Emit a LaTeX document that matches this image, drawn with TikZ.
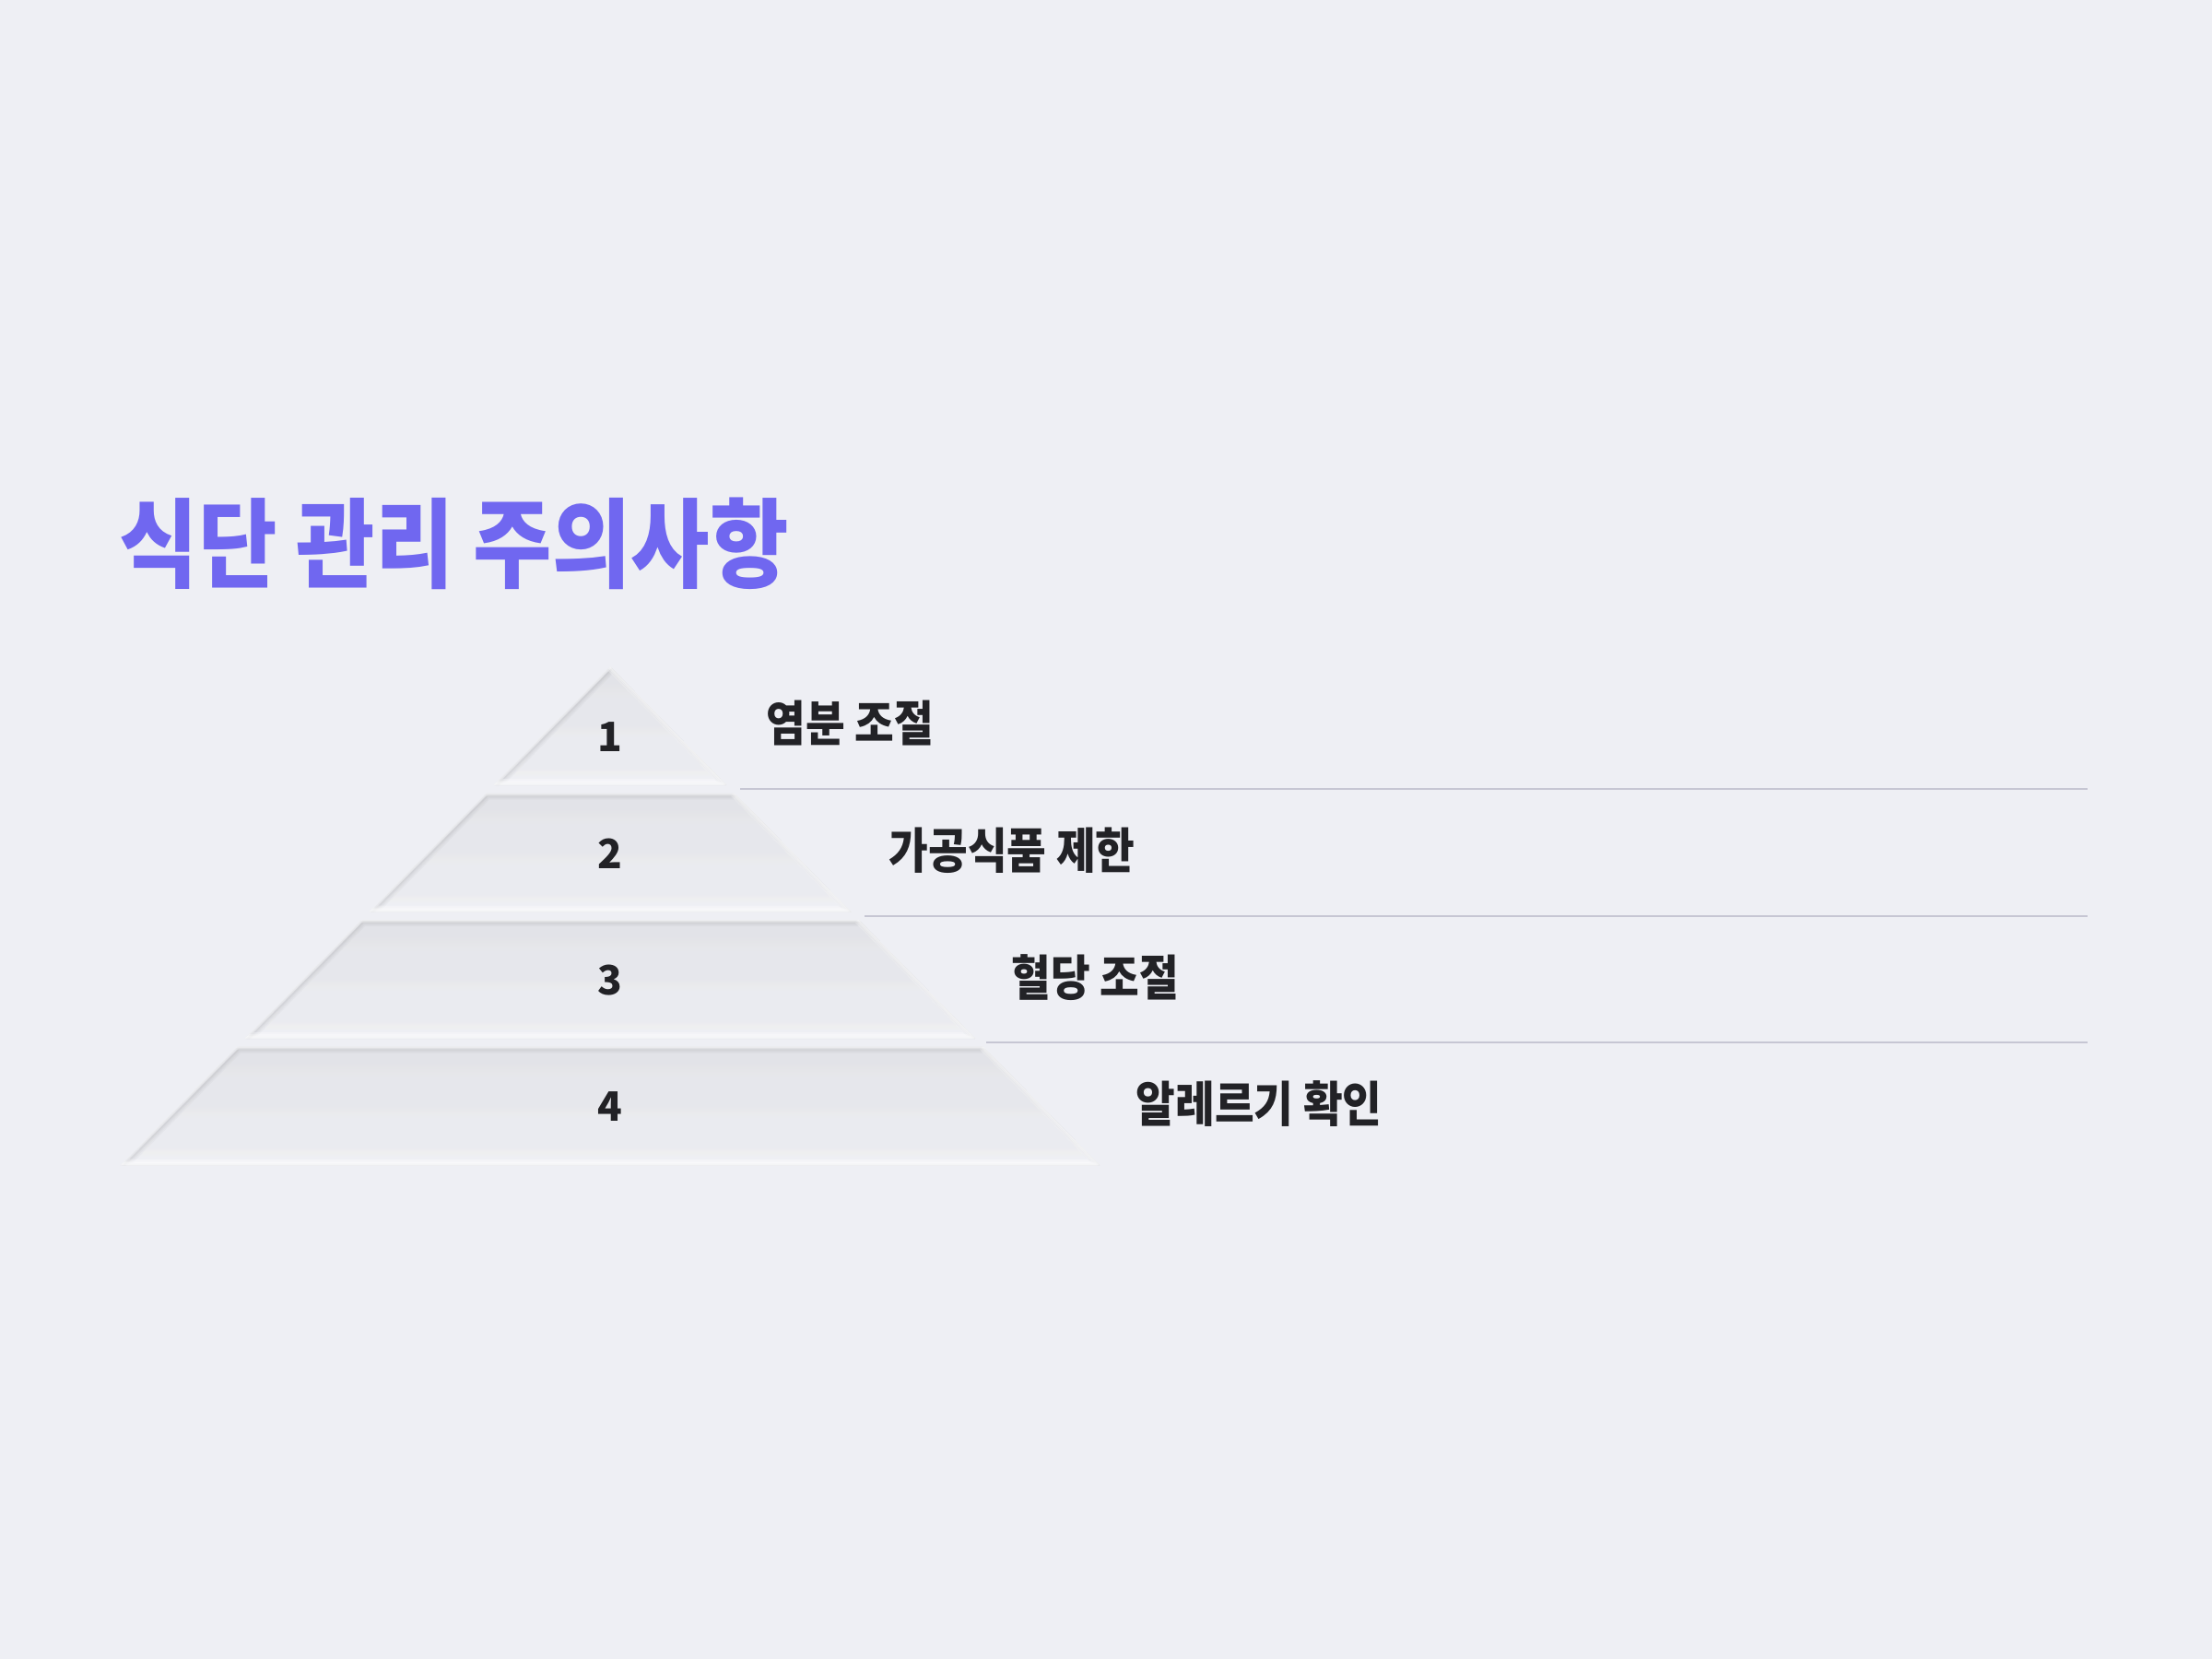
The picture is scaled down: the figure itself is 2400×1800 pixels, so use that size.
\documentclass[tikz,border=0pt]{standalone}
\usepackage{fontspec}
\setmainfont{Noto Sans CJK KR}
\newfontfamily\krfont{Noto Sans CJK KR}[FakeStretch=0.88]
\definecolor{bgpaper}{HTML}{EEEFF4}
\definecolor{titlepurple}{HTML}{7067F0}
\definecolor{ink}{HTML}{222226}
\definecolor{rulegray}{HTML}{C6C6D3}
\definecolor{shade}{HTML}{B4B6C6}

\begin{document}
\begin{tikzpicture}[x=0.01cm, y=-0.01cm,
	heading/.style={font=\krfont\bfseries\fontsize{30}{36}\selectfont, text=titlepurple, anchor=west, inner sep=0pt},
	num/.style={font=\bfseries\fontsize{12.5}{15}\selectfont, text=ink, inner sep=0pt},
	itemlabel/.style={font=\krfont\bfseries\fontsize{15}{18}\selectfont, text=ink, anchor=west, inner sep=0pt},
	sepline/.style={draw=rulegray, line width=0.7pt}]
	\fill[bgpaper] (0,0) rectangle (2400,1800);
	\useasboundingbox (0,0) rectangle (2400,1800);

	% pyramid tiers, inset look
	\foreach \i in {1,...,4}{
		\pgfmathsetmacro\ytop{723+(\i-1)*137.5}
		\pgfmathsetmacro\ybot{\ytop+129}
		\pgfmathsetmacro\wtop{(\ytop-723)*0.9815}
		\pgfmathsetmacro\wbot{(\ybot-723)*0.9815}
		\def\tierpath{(662-\wtop,\ytop) -- (662+\wtop,\ytop) -- (662+\wbot,\ybot) -- (662-\wbot,\ybot) -- cycle}
		\begin{scope}
			\clip \tierpath;
			\foreach \lw in {10,7,4,2}
				\draw[shade, line width=\lw*0.2845pt, opacity=0.025, line join=round, shift={(2,2)}] \tierpath;
			\foreach \lw in {10,6,3}
				\draw[white, line width=\lw*0.2845pt, opacity=0.3, line join=round, shift={(-2,-2)}] \tierpath;
		\end{scope}
	}

	\node[heading] (title) at (129,590) {식단 관리 주의사항};

	\foreach \i/\ny in {1/800, 2/926, 3/1064, 4/1201}
		\node[num] (n\i) at (662,\ny) {\i};

	\foreach \i/\txt/\lx/\ly in {1/염분 조절/831/785, 2/가공식품 제한/964/923, 3/혈당 조절/1097/1061, 4/알레르기 확인/1232/1198}
		\node[itemlabel] (l\i) at (\lx,\ly) {\txt};

	% separators between tiers
	\foreach \i/\sx/\sy in {1/803/856, 2/938/994, 3/1070/1131}{
		\coordinate (s\i a) at (\sx,\sy);
		\coordinate (s\i b) at (2265,\sy);
		\draw[sepline] (s\i a) -- (s\i b);
	}
\end{tikzpicture}
\end{document}
